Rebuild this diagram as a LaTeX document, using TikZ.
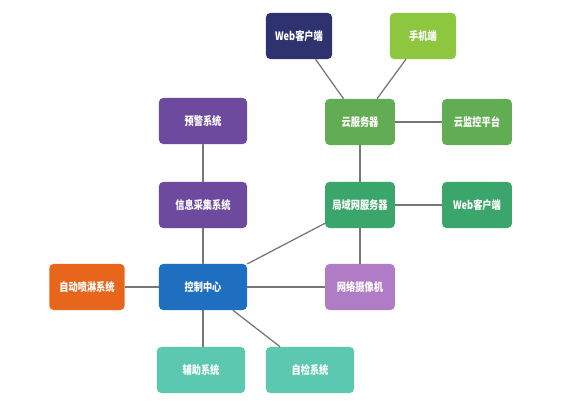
\documentclass[tikz,border=0pt]{standalone}
\usepackage{fontspec}
\newfontfamily\cjk[FakeStretch=0.8]{Noto Sans CJK SC}
\definecolor{navy}{HTML}{2E3370}
\definecolor{lime}{HTML}{8DC63F}
\definecolor{cloudgreen}{HTML}{62AD53}
\definecolor{langreen}{HTML}{3BA66B}
\definecolor{warnpurple}{HTML}{6E4A9E}
\definecolor{sprayorange}{HTML}{E8661C}
\definecolor{ctrlblue}{HTML}{1E6FBF}
\definecolor{campurple}{HTML}{B07CC6}
\definecolor{aidteal}{HTML}{5BC8AF}
\definecolor{wire}{HTML}{777777}
\begin{document}
\begin{tikzpicture}[x=0.025cm, y=-0.025cm,
    box/.style={rectangle, rounded corners=3pt, minimum height=1.15cm, minimum width=#1,
      inner sep=1pt, text=white, font=\cjk\bfseries\fontsize{8.2}{10}\selectfont},
    box/.default=1.74cm,
    link/.style={wire, line width=0.9pt}]
  \useasboundingbox (0,0) rectangle (588,420);
  \fill[white] (0,0) rectangle (588,420);
  % top row
  \node[box=1.65cm, fill=navy] (webtop) at (299,36) {Web客户端};
  \node[box=1.65cm, fill=lime] (phone) at (423,36) {手机端};
  % cloud
  \node[box, fill=cloudgreen] (cloud) at (360,122) {云服务器};
  \node[box, fill=cloudgreen] (monitor) at (477,122) {云监控平台};
  \node[box=2.2cm, fill=warnpurple] (warn) at (203,121) {预警系统};
  % lan
  \node[box=2.2cm, fill=warnpurple] (collect) at (203,205) {信息采集系统};
  \node[box, fill=langreen] (lan) at (360,205) {局域网服务器};
  \node[box, fill=langreen] (webright) at (477,205) {Web客户端};
  % control
  \node[box=1.88cm, fill=sprayorange] (spray) at (87,287) {自动喷淋系统};
  \node[box=2.2cm, fill=ctrlblue] (ctrl) at (203,287) {控制中心};
  \node[box, fill=campurple] (camera) at (360,287) {网络摄像机};
  \node[box=2.2cm, fill=aidteal] (aux) at (201,370) {辅助系统};
  \node[box=2.2cm, fill=aidteal] (selfcheck) at (310,370) {自检系统};
  % wires
  \draw[link] (webtop) -- (cloud);
  \draw[link] (phone) -- (cloud);
  \draw[link] (cloud) -- (monitor);
  \draw[link] (cloud) -- (lan);
  \draw[link] (lan) -- (webright);
  \draw[link] (lan) -- (camera);
  \draw[link] (lan) -- (ctrl);
  \draw[link] (warn) -- (collect);
  \draw[link] (collect) -- (ctrl);
  \draw[link] (spray) -- (ctrl);
  \draw[link] (ctrl) -- (camera);
  \draw[link] (ctrl.south) -- (ctrl.south |- aux.north);
  \draw[link] (ctrl) -- (selfcheck);
\end{tikzpicture}
\end{document}
